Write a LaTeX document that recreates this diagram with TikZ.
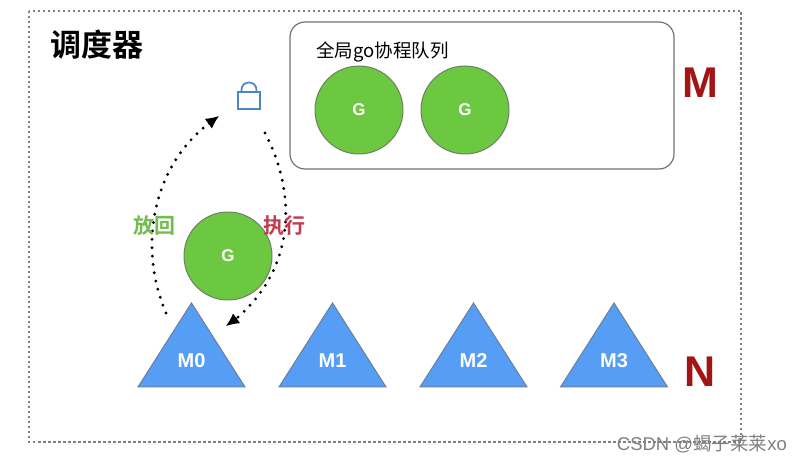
\documentclass[tikz,border=0pt]{standalone}
\usepackage{fontspec}
\setmainfont{Liberation Sans}
\newfontfamily\cjk{Noto Sans CJK SC}
\newfontfamily\cjkb{Noto Sans CJK SC Bold}
\usetikzlibrary{arrows.meta,shapes.geometric}
\definecolor{gfill}{HTML}{6CC840}
\definecolor{gedge}{HTML}{6F7F66}
\definecolor{tfill}{HTML}{559DF5}
\definecolor{tedge}{HTML}{6C7F96}
\definecolor{mred}{HTML}{A31515}
\definecolor{lockc}{HTML}{4A86C8}
\definecolor{backc}{HTML}{72BC50}
\definecolor{runc}{HTML}{C23B4E}
\tikzset{
  x=1pt,y=-1pt,
  gor/.style={circle,draw=gedge,line width=1pt,fill=gfill,minimum size=88pt,inner sep=0pt,text=white,font=\bfseries\fontsize{17}{17}\selectfont},
  proc/.style={draw=tedge,line width=1pt,fill=tfill},
  plab/.style={text=white,font=\bfseries\fontsize{20}{20}\selectfont,inner sep=0pt},
  big/.style={text=mred,font=\bfseries\fontsize{43}{43}\selectfont,inner sep=0pt},
  flow/.style={line width=3.2pt,line cap=round,dash pattern=on 0pt off 8.4pt},
  tipk/.style={-{Latex[length=13pt,width=12pt]},line width=1pt},
}
\begin{document}
\begin{tikzpicture}
\useasboundingbox (0,0) rectangle (801,462);
\fill[white] (0,0) rectangle (801,462);
\draw[gray,line width=1.2pt,dash pattern=on 2.5pt off 2.5pt] (29,11) rectangle (741,442);
\node[anchor=west,inner sep=0pt] (title) at (50,45) {\cjkb\fontsize{31}{31}\selectfont 调度器};
\draw[gray!90!black,line width=1.2pt,rounded corners=15pt] (290,22) rectangle (674,169);
\node[anchor=west,inner sep=0pt] (qtitle) at (316,52) {\cjk\fontsize{18.5}{18.5}\selectfont 全局go协程队列};
\node[gor] (g1) at (359,110) {G};
\node[gor] (g2) at (465,110) {G};
\node[gor] (g0) at (228,256) {G};
% lock
\draw[lockc,line width=1.7pt,fill=white] (238,92) -- (238,109) -- (260,109) -- (260,92) -- cycle;
\draw[lockc,line width=1.7pt] (241.5,92) -- (241.5,90) .. controls (241.5,80) and (256.5,80) .. (256.5,90) -- (256.5,92);
\coordinate (lockL) at (219,116);
\coordinate (lockLb) at (208,124);
\coordinate (lockR) at (265,133);
% triangles
\foreach \n/\x in {0/191.5,1/332.5,2/473.5,3/614} {
  \draw[proc] (\x,303) -- (\x+53.5,387) -- (\x-53.5,387) -- cycle;
  \node[plab] (m\n) at (\x,361) {M\n};
}
\coordinate (mOutL) at (166,313);
\coordinate (mInR) at (226,326);
\coordinate (mInRb) at (237,318);
\draw[flow] (mOutL) .. controls (139,250) and (150,170) .. (lockLb);
\draw[flow] (lockR) .. controls (295,190) and (298,265) .. (mInRb);
\draw[tipk] (lockLb) -- (lockL);
\draw[tipk] (mInRb) -- (mInR);
\node[inner sep=0pt,text=backc] (back) at (154,226) {\cjkb\fontsize{21}{21}\selectfont 放回};
\node[inner sep=0pt,text=runc] (run) at (284,226) {\cjkb\fontsize{21}{21}\selectfont 执行};
\node[big] (M) at (700,83) {M};
\node[big] (N) at (700,372) {N};
\node[anchor=east,inner sep=0pt,text=gray] (wm) at (787,444) {\fontsize{18.5}{18.5}\selectfont CSDN @\cjk 蝎子莱莱\rmfamily xo};
\end{tikzpicture}
\end{document}
